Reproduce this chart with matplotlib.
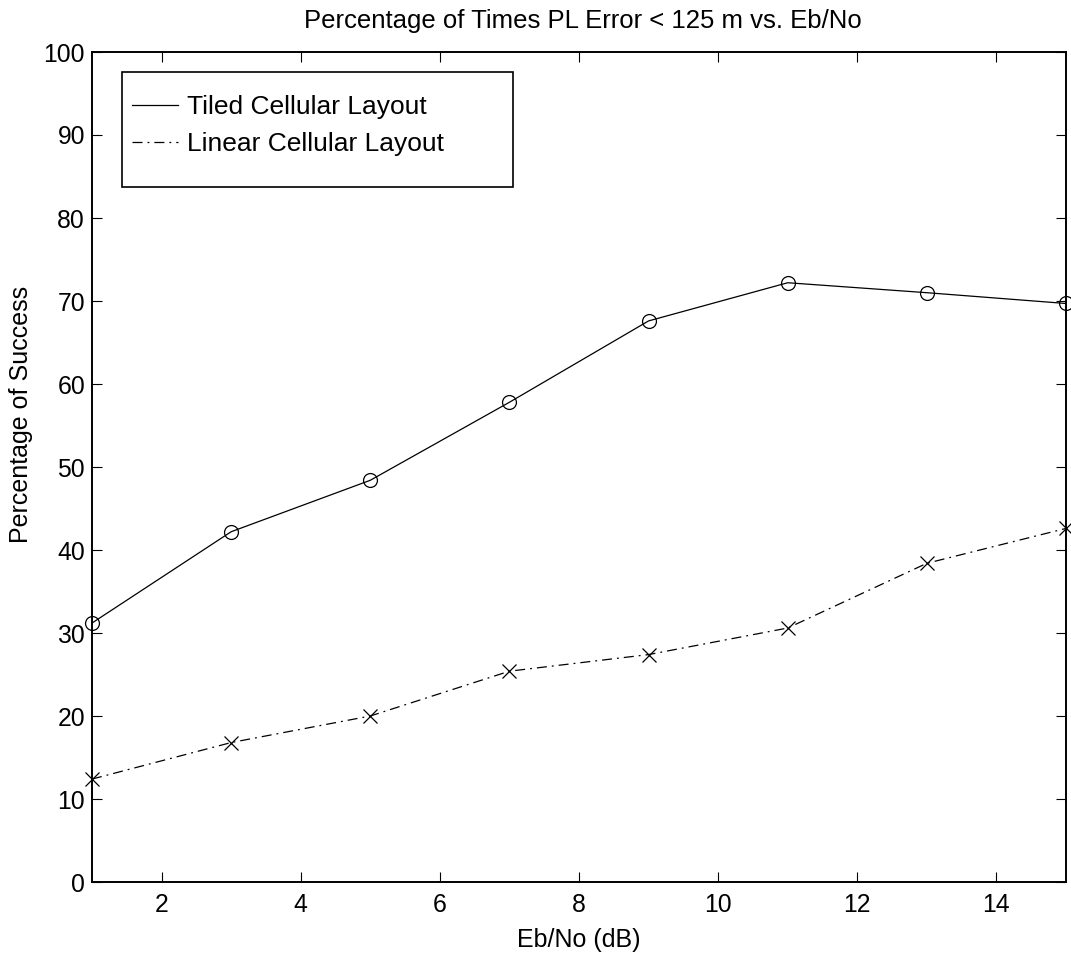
import matplotlib
matplotlib.use("Agg")
import matplotlib.pyplot as plt
from matplotlib.patches import Rectangle

eb_no = [1, 3, 5, 7, 9, 11, 13, 15]
tiled = [31.2, 42.2, 48.4, 57.8, 67.6, 72.2, 71.0, 69.7]
linear = [12.4, 16.8, 20.0, 25.4, 27.4, 30.6, 38.4, 42.6]
x_ticks = [2, 4, 6, 8, 10, 12, 14]
y_ticks = [0, 10, 20, 30, 40, 50, 60, 70, 80, 90, 100]

plt.rcParams['font.family'] = ['Liberation Sans', 'DejaVu Sans']

fig = plt.figure(figsize=(10.71, 9.55), dpi=100)
ax = fig.add_axes([92/1071, (955-882)/955, (1066-92)/1071, (882-52)/955])

ax.plot(eb_no, tiled, color='black', lw=0.9, ls='-', marker='o', ms=10,
        mfc='none', mec='black', mew=0.9, label='Tiled Cellular Layout', clip_on=False)
ax.plot(eb_no, linear, color='black', lw=0.9, ls=(0, (8, 4, 1.5, 4)), marker='x', ms=10,
        mec='black', mew=0.9, label='Linear Cellular Layout', clip_on=False)

ax.set_xlim(1, 15)
ax.set_ylim(0, 100)
ax.set_xticks(x_ticks)
ax.set_yticks(y_ticks)
ax.tick_params(direction='in', length=7, width=0.8, labelsize=17.8, top=True, right=True)
ax.tick_params(axis='y', pad=5)
ax.tick_params(axis='x', pad=8)
for s in ax.spines.values():
    s.set_linewidth(1.4)

ax.set_title('Percentage of Times PL Error < 125 m vs. Eb/No', fontsize=18.5, pad=17, x=0.504)
ax.set_xlabel('Eb/No (dB)', fontsize=18, labelpad=7.5)
ax.set_ylabel('Percentage of Success', fontsize=18)
ax.yaxis.set_label_coords((33-92)/974, (882-414)/830)

# legend frame
ax.add_patch(Rectangle(((121.7-92)/974, (882-187)/830), (513-121.7)/974, (187-71.7)/830,
                       transform=ax.transAxes, fill=True, facecolor='white',
                       edgecolor='black', lw=1.2, zorder=4))
leg = ax.legend(loc='upper left', bbox_to_anchor=((131.7-92)/974, (882-95)/830), fontsize=19,
                frameon=False, borderpad=0, handlelength=1.74, handletextpad=0.34,
                labelspacing=0.5, borderaxespad=0)
leg.set_zorder(5)
for h in leg.legend_handles:
    h.set_marker('')

fig.savefig('out.png', dpi=100)
